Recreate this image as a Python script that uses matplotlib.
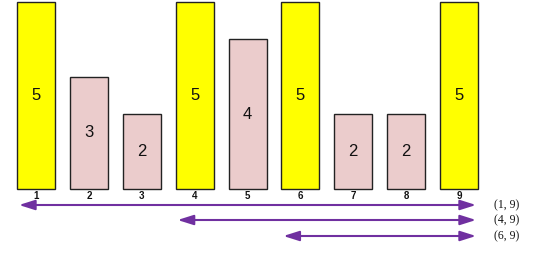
import matplotlib
matplotlib.use("Agg")
import matplotlib.pyplot as plt

positions = [1, 2, 3, 4, 5, 6, 7, 8, 9]
values = [5, 3, 2, 5, 4, 5, 2, 2, 5]
highlighted = [1, 4, 6, 9]
ranges = [(1, 9), (4, 9), (6, 9)]
range_labels = ["(1, 9)", "(4, 9)", "(6, 9)"]

W, H = 534, 254
fig = plt.figure(figsize=(W / 100, H / 100), dpi=100)
ax = fig.add_axes([0, 0, 1, 1])
pitch = 52.875
unit = 37.4
ax.set_xlim(1 - 36 / pitch, 1 + (W - 36) / pitch)
ax.set_ylim(-(H - 189) / unit, 189 / unit)
ax.axis("off")

bw = 38 / pitch
colors = ["#FFFF00" if p in highlighted else "#EBCCCC" for p in positions]
ax.bar(positions, values, width=bw, color=colors, edgecolor="#222222", linewidth=1.0)

for p, v in zip(positions, values):
    ax.text(p, v / 2, str(v), ha="center", va="center", fontsize=12,
            family="Liberation Sans", color="#111111")
    ax.text(p, -7 / unit, str(p), ha="center", va="center", fontsize=7,
            fontweight="bold", family="Liberation Sans", color="#111111")

arrow_y = [-16 / unit, -31 / unit, -47 / unit]
for (a, b), y, lab in zip(ranges, arrow_y, range_labels):
    x0 = a - 17 / pitch
    x1 = b + 17 / pitch
    ax.annotate("", xy=(x1, y), xytext=(x0, y),
                arrowprops=dict(arrowstyle="<|-|>,head_length=0.95,head_width=0.3",
                                color="#7030A0", lw=1.5, shrinkA=0, shrinkB=0,
                                mutation_scale=10))
    ax.text(1 + (494 - 36) / pitch, y, lab, ha="left", va="center", fontsize=8.5,
            family="Liberation Serif", color="#111111")

fig.savefig("out.png", dpi=100)
